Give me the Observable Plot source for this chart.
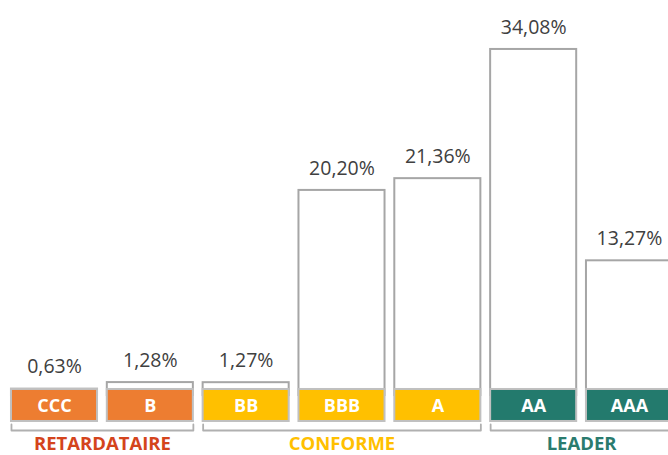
<!DOCTYPE html>
<html>
<head>
<meta charset="utf-8">
<script src="https://cdn.jsdelivr.net/npm/d3@7"></script>
<script src="https://cdn.jsdelivr.net/npm/@observablehq/plot@0.6"></script>
<style>
  html, body { margin: 0; padding: 0; background: #ffffff; }
  #chart svg { display: block; }
</style>
</head>
<body>
<div id="chart"></div>
<script>
// ---- data ----
const categories = ["CCC", "B", "BB", "BBB", "A", "AA", "AAA"];
const values = [0.63, 1.28, 1.27, 20.20, 21.36, 34.08, 13.27];
const valueLabels = ["0,63%", "1,28%", "1,27%", "20,20%", "21,36%", "34,08%", "13,27%"];
const categoryGroups = ["RETARDATAIRE", "RETARDATAIRE", "CONFORME", "CONFORME", "CONFORME", "LEADER", "LEADER"];
const groupNames = ["RETARDATAIRE", "CONFORME", "LEADER"];
const groupFill = ["#ed7d31", "#ffc000", "#237a6d"];
const groupText = ["#d4441c", "#ffc000", "#2a7b6e"];

// ---- layout constants (scale units) ----
const HALF = 0.449;          // half bar width in band units
const BOX_TOP = 0.6;         // top of colored label box
const BOX_BOTTOM = -2.55;    // bottom of colored label box
const LABEL_Y = -1.08;       // inner label position
const BRACKET_Y = -3.44;     // bracket horizontal line
const BRACKET_TICK = -2.85;  // bracket end ticks top
const GROUP_Y = -4.78;       // group label

const rows = categories.map((c, i) => ({
  i, category: c, value: values[i], label: valueLabels[i],
  group: categoryGroups[i],
  fill: groupFill[groupNames.indexOf(categoryGroups[i])]
}));

const groupRows = groupNames.map((g, k) => {
  const idx = rows.filter(r => r.group === g).map(r => r.i);
  return {group: g, first: d3.min(idx), last: d3.max(idx), color: groupText[k]};
});

const bracketPts = groupRows.flatMap(g => [
  {group: g.group, x: g.first - HALF, y: BRACKET_TICK},
  {group: g.group, x: g.first - HALF, y: BRACKET_Y},
  {group: g.group, x: g.last + HALF, y: BRACKET_Y},
  {group: g.group, x: g.last + HALF, y: BRACKET_TICK}
]);

const chart = Plot.plot({
  width: 668,
  height: 455,
  margin: 0,
  style: {fontFamily: "'Open Sans', sans-serif", background: "#ffffff"},
  x: {type: "linear", domain: [-0.5635, 6.407], axis: null},
  y: {domain: [-5.9, 38.9], axis: null},
  marks: [
    Plot.rectY(rows, {
      x1: d => d.i - HALF, x2: d => d.i + HALF, y1: 0, y2: "value",
      fill: "#ffffff", stroke: "#a6a6a6", strokeWidth: 2
    }),
    Plot.rectY(rows, {
      x1: d => d.i - HALF, x2: d => d.i + HALF, y1: BOX_BOTTOM, y2: BOX_TOP,
      fill: "fill", stroke: "#c0c0c0", strokeWidth: 2
    }),
    Plot.text(rows, {
      x: "i", y: "value", text: "label", dy: -22,
      fill: "#404040", fontSize: 19.5, lineAnchor: "middle"
    }),
    Plot.text(rows, {
      x: "i", y: LABEL_Y, text: "category",
      fill: "#ffffff", fontSize: 18, fontWeight: "bold", lineAnchor: "middle"
    }),
    Plot.line(bracketPts, {
      x: "x", y: "y", z: "group", stroke: "#b0b0b0", strokeWidth: 1.8
    }),
    Plot.text(groupRows, {
      x: d => (d.first + d.last) / 2, y: GROUP_Y, text: "group",
      fill: "color", fontSize: 18.5, fontWeight: "bold", lineAnchor: "middle"
    })
  ]
});

document.getElementById("chart").appendChild(chart);
</script>
</body>
</html>
